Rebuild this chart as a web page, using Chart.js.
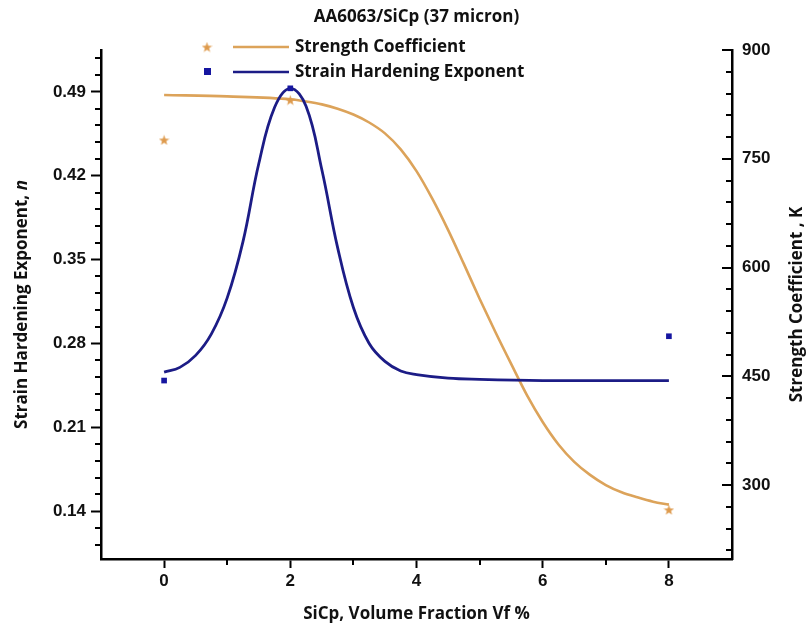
<!DOCTYPE html>
<html>
<head>
<meta charset="utf-8">
<script src="https://cdn.jsdelivr.net/npm/chart.js@4"></script>
<style>
  body { margin: 0; background: #fff; }
  canvas { display: block; }
</style>
</head>
<body>
<canvas id="myChart" width="810" height="638"></canvas>
<script>
// measured points
const kX = [0, 2, 8]
const kValues = [776, 831, 266]
const nX = [0, 2, 8]
const nValues = [0.249, 0.493, 0.286]

// fitted curves
const kFitX = [0, 1, 2, 2.25, 2.5, 2.75, 3, 3.25, 3.5, 3.75, 4, 4.25, 4.5, 4.75, 5, 5.25, 5.5, 5.75, 6, 6.25, 6.5, 6.75, 7, 7.25, 7.5, 7.75, 8]
const kFit = [838, 836, 832, 829, 825, 819, 811, 800, 785, 763, 733, 695, 652, 605, 557, 511, 467, 424, 387, 356, 332, 314, 300, 290, 283, 277, 273]
const nFitX = [0, 0.25, 0.5, 0.75, 1, 1.25, 1.5, 1.75, 2, 2.25, 2.5, 2.75, 3, 3.25, 3.5, 3.75, 4, 4.5, 5, 6, 7, 8]
const nFit = [0.256, 0.26, 0.27, 0.288, 0.318, 0.365, 0.43, 0.477, 0.493, 0.478, 0.425, 0.36, 0.31, 0.28, 0.265, 0.257, 0.254, 0.251, 0.25, 0.249, 0.249, 0.249]

// axis ticks
const xTicks = [0, 2, 4, 6, 8]
const xMinor = [1, 3, 5, 7]
const nTicks = [0.14, 0.21, 0.28, 0.35, 0.42, 0.49]
const kTicks = [300, 450, 600, 750, 900]

const chartTitle = 'AA6063/SiCp (37 micron)'
const kLabel = 'Strength Coefficient'
const nLabel = 'Strain Hardening Exponent'
const xTitle = 'SiCp, Volume Fraction Vf %'
const kTitle = 'Strength Coefficient , K'

const orange = '#dca35a'
const starColor = '#de9a4c'
const navy = '#1c1c86'
const squareColor = '#1616a0'

const tickFont = { family: 'Liberation Sans', weight: 'bold', size: 17 }
const titleFont = { family: 'Open Sans', weight: 'bold', size: 17 }
const textFont = 'bold 17px "Open Sans"'

function starImage(size, color) {
    let c = document.createElement('canvas')
    c.width = size
    c.height = size
    let g = c.getContext('2d')
    g.fillStyle = color
    g.beginPath()
    for (let i = 0; i < 10; i++) {
        let r = i % 2 ? size * 0.2 : size / 2
        let a = -Math.PI / 2 + i * Math.PI / 5
        g.lineTo(size / 2 + r * Math.cos(a), size / 2 + 0.6 + r * Math.sin(a))
    }
    g.closePath()
    g.fill()
    return c
}
const star = starImage(11, starColor)

function minorValues(first, step, min, max) {
    let out = []
    for (let k = -40; k <= 40; k++) {
        if (k % 5 === 0) continue
        let v = first + k * step
        if (v > min + 1e-9 && v < max - 1e-9) out.push(v)
    }
    return out
}

const overlay = {
    id: 'overlay',
    afterDraw(chart) {
        const ctx = chart.ctx
        const area = chart.chartArea
        const sx = chart.scales.x, sn = chart.scales.yN, sk = chart.scales.yK
        const midY = (area.top + area.bottom) / 2
        ctx.save()
        ctx.strokeStyle = '#000'
        ctx.lineWidth = 2
        ctx.beginPath()
        // minor ticks, left axis (outside)
        minorValues(0.14, 0.014, sn.min, sn.max).forEach(v => {
            let y = Math.round(sn.getPixelForValue(v))
            ctx.moveTo(area.left - 6, y)
            ctx.lineTo(area.left, y)
        })
        // right axis ticks point inwards
        minorValues(300, 30, sk.min, sk.max).forEach(v => {
            let y = Math.round(sk.getPixelForValue(v))
            ctx.moveTo(area.right, y)
            ctx.lineTo(area.right - 6, y)
        })
        kTicks.forEach(v => {
            let y = Math.round(sk.getPixelForValue(v))
            ctx.moveTo(area.right, y)
            ctx.lineTo(area.right - 10, y)
        })
        xMinor.forEach(v => {
            let x = Math.round(sx.getPixelForValue(v))
            ctx.moveTo(x, area.bottom)
            ctx.lineTo(x, area.bottom + 6)
        })
        ctx.stroke()

        // title
        ctx.fillStyle = '#111'
        ctx.textBaseline = 'middle'
        ctx.textAlign = 'center'
        ctx.font = textFont
        ctx.fillText(chartTitle, (area.left + area.right) / 2, 17)

        // legend
        ctx.textAlign = 'left'
        ctx.drawImage(star, 207 - 5.5, 47 - 5.5)
        ctx.fillStyle = squareColor
        ctx.fillRect(204, 68, 7, 7)
        ctx.lineWidth = 2.5
        ctx.strokeStyle = orange
        ctx.beginPath()
        ctx.moveTo(233, 47)
        ctx.lineTo(289, 47)
        ctx.stroke()
        ctx.strokeStyle = navy
        ctx.beginPath()
        ctx.moveTo(233, 72)
        ctx.lineTo(289, 72)
        ctx.stroke()
        ctx.fillStyle = '#111'
        ctx.fillText(kLabel, 295, 47)
        ctx.fillText(nLabel, 295, 72)

        // right axis title, reading upwards
        ctx.save()
        ctx.translate(797, midY)
        ctx.rotate(-Math.PI / 2)
        ctx.textAlign = 'center'
        ctx.fillText(kTitle, 0, 0)
        ctx.restore()

        // left axis title with italic n
        ctx.translate(22, midY)
        ctx.rotate(-Math.PI / 2)
        const mainPart = 'Strain Hardening Exponent, '
        ctx.font = textFont
        let w1 = ctx.measureText(mainPart).width
        ctx.font = 'italic ' + textFont
        let w2 = ctx.measureText('n').width
        let x0 = -(w1 + w2) / 2
        ctx.font = textFont
        ctx.fillText(mainPart, x0, 0)
        ctx.font = 'italic ' + textFont
        ctx.fillText('n', x0 + w1, 0)
        ctx.restore()
    }
}

let ctx1 = document.getElementById('myChart')
let myChart = new Chart(ctx1, {
    type: 'scatter',
    data: {
        datasets: [
            {
                label: nLabel,
                data: nX.map((x, i) => ({ x: x, y: nValues[i] })),
                yAxisID: 'yN',
                pointStyle: 'rect',
                pointRadius: 4,
                backgroundColor: squareColor,
                borderColor: squareColor,
                borderWidth: 0,
            },
            {
                label: nLabel + ' fit',
                data: nFitX.map((x, i) => ({ x: x, y: nFit[i] })),
                yAxisID: 'yN',
                showLine: true,
                pointRadius: 0,
                borderColor: navy,
                borderWidth: 2.8,
                tension: 0.4,
            },
            {
                label: kLabel,
                data: kX.map((x, i) => ({ x: x, y: kValues[i] })),
                yAxisID: 'yK',
                pointStyle: star,
                pointRadius: 6,
            },
            {
                label: kLabel + ' fit',
                data: kFitX.map((x, i) => ({ x: x, y: kFit[i] })),
                yAxisID: 'yK',
                showLine: true,
                pointRadius: 0,
                borderColor: orange,
                borderWidth: 2.6,
                cubicInterpolationMode: 'monotone',
            },
        ]
    },
    options: {
        responsive: false,
        animation: false,
        layout: { padding: { top: 50 } },
        plugins: {
            legend: { display: false },
            tooltip: { enabled: false },
        },
        scales: {
            x: {
                type: 'linear',
                position: 'bottom',
                min: -1,
                max: 9,
                afterBuildTicks: s => { s.ticks = xTicks.map(v => ({ value: v })) },
                afterFit: s => { s.height = 79 },
                grid: { drawOnChartArea: false, tickLength: 9, tickWidth: 2, tickColor: '#000' },
                border: { color: '#000', width: 2.5 },
                ticks: { font: tickFont, color: '#111', padding: 3, callback: v => String(v) },
                title: { display: true, text: xTitle, font: titleFont, color: '#111', padding: { top: 0, bottom: 14 } },
            },
            yN: {
                type: 'linear',
                position: 'left',
                min: 0.1,
                max: 0.525,
                afterBuildTicks: s => { s.ticks = nTicks.map(v => ({ value: v })) },
                afterFit: s => { s.width = 101 },
                grid: { drawOnChartArea: false, tickLength: 10, tickWidth: 2, tickColor: '#000' },
                border: { color: '#000', width: 2.5 },
                ticks: { font: tickFont, color: '#111', padding: 5, callback: v => v.toFixed(2) },
            },
            yK: {
                type: 'linear',
                position: 'right',
                min: 198,
                max: 900,
                afterBuildTicks: s => { s.ticks = kTicks.map(v => ({ value: v })) },
                afterFit: s => { s.width = 78 },
                grid: { drawOnChartArea: false, drawTicks: false },
                border: { color: '#000', width: 2.5 },
                ticks: { font: tickFont, color: '#111', padding: 10, callback: v => String(v) },
            },
        }
    },
    plugins: [overlay]
})
</script>
</body>
</html>
